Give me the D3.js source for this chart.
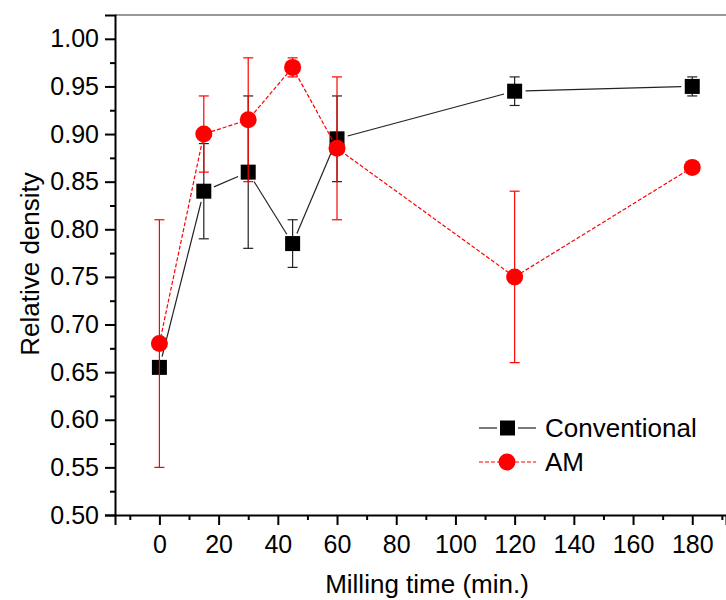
<!DOCTYPE html>
<html>
<head>
<meta charset="utf-8">
<script src="https://cdn.jsdelivr.net/npm/d3@7"></script>
<style>
  body { margin: 0; background: #fff; }
  text { font-family: "Liberation Sans", Arial, sans-serif; fill: #000; }
</style>
</head>
<body>
<svg class="chart"></svg>
<script>
var millTime = [0, 15, 30, 45, 60, 120, 180];
var convValues = [0.655, 0.84, 0.86, 0.785, 0.895, 0.945, 0.95];
var convErrors = [0, 0.05, 0.08, 0.025, 0.045, 0.015, 0.01];
var amValues = [0.68, 0.90, 0.915, 0.97, 0.885, 0.75, 0.865];
var amErrors = [0.13, 0.04, 0.065, 0.01, 0.075, 0.09, 0];
var xTicks = [0, 20, 40, 60, 80, 100, 120, 140, 160, 180];
var xMinor = [-10, 10, 30, 50, 70, 90, 110, 130, 150, 170, 190];
var yTicks = [0.50, 0.55, 0.60, 0.65, 0.70, 0.75, 0.80, 0.85, 0.90, 0.95, 1.00];
var yMinor = [0.525, 0.575, 0.625, 0.675, 0.725, 0.775, 0.825, 0.875, 0.925, 0.975];
var seriesNames = ["Conventional", "AM"];

var svgWidth = 726, svgHeight = 600;
var plotLeft = 115, plotRight = 726, plotTop = 15, plotBottom = 515;

var svg = d3.select(".chart")
    .attr("width", svgWidth)
    .attr("height", svgHeight);

var x = d3.scaleLinear().domain([-15, 191.4]).range([plotLeft, plotRight]);
var y = d3.scaleLinear().domain([0.5, 1.025]).range([plotBottom, plotTop]);

var conv = millTime.map(function(t, i) { return {t: t, v: convValues[i], e: convErrors[i]}; });
var am = millTime.map(function(t, i) { return {t: t, v: amValues[i], e: amErrors[i]}; });

// top frame line
svg.append("line")
    .attr("x1", plotLeft).attr("x2", plotRight)
    .attr("y1", plotTop).attr("y2", plotTop)
    .attr("stroke", "#999").attr("stroke-width", 2);

// x axis
var xAxis = svg.append("g")
    .attr("transform", "translate(0," + plotBottom + ")")
    .call(d3.axisBottom(x).tickValues(xTicks).tickSize(10).tickPadding(10).tickFormat(d3.format("d")));
xAxis.select(".domain").attr("stroke-width", 2);
xAxis.selectAll(".tick line").attr("stroke-width", 2);
xAxis.selectAll("text").style("font-size", "25px").attr("fill", "#000");

svg.append("g")
    .attr("transform", "translate(0," + plotBottom + ")")
    .call(d3.axisBottom(x).tickValues(xMinor).tickSize(5).tickFormat(""))
    .call(function(g) { g.select(".domain").remove(); })
    .selectAll(".tick line").attr("stroke-width", 2);

// y axis
var yAxis = svg.append("g")
    .attr("transform", "translate(" + plotLeft + ",0)")
    .call(d3.axisLeft(y).tickValues(yTicks).tickSize(10).tickPadding(6).tickFormat(d3.format(".2f")));
yAxis.select(".domain").attr("stroke-width", 2);
yAxis.selectAll(".tick line").attr("stroke-width", 2);
yAxis.selectAll("text").style("font-size", "25px").attr("fill", "#000");

svg.append("g")
    .attr("transform", "translate(" + plotLeft + ",0)")
    .call(d3.axisLeft(y).tickValues(yMinor).tickSize(5).tickFormat(""))
    .call(function(g) { g.select(".domain").remove(); })
    .selectAll(".tick line").attr("stroke-width", 2);

// axis titles
svg.append("text")
    .attr("x", 427)
    .attr("y", 593)
    .attr("text-anchor", "middle")
    .style("font-size", "26px")
    .text("Milling time (min.)");

svg.append("text")
    .attr("transform", "translate(39,264) rotate(-90)")
    .attr("text-anchor", "middle")
    .style("font-size", "26px")
    .text("Relative density");

var plot = svg.append("g");

function errorBars(data, color) {
    var g = plot.append("g").attr("stroke", color).attr("stroke-width", 1.2);
    var withErr = data.filter(function(d) { return d.e > 0; });
    g.selectAll(".ev").data(withErr).enter().append("line")
        .attr("x1", function(d) { return x(d.t); })
        .attr("x2", function(d) { return x(d.t); })
        .attr("y1", function(d) { return y(d.v - d.e); })
        .attr("y2", function(d) { return y(d.v + d.e); });
    g.selectAll(".et").data(withErr).enter().append("line")
        .attr("x1", function(d) { return x(d.t) - 5; })
        .attr("x2", function(d) { return x(d.t) + 5; })
        .attr("y1", function(d) { return y(d.v + d.e); })
        .attr("y2", function(d) { return y(d.v + d.e); });
    g.selectAll(".eb").data(withErr).enter().append("line")
        .attr("x1", function(d) { return x(d.t) - 5; })
        .attr("x2", function(d) { return x(d.t) + 5; })
        .attr("y1", function(d) { return y(d.v - d.e); })
        .attr("y2", function(d) { return y(d.v - d.e); });
}

// conventional: line segments with a small gap at each marker
var segs = d3.pairs(conv).map(function(p) {
    var x1 = x(p[0].t), y1 = y(p[0].v), x2 = x(p[1].t), y2 = y(p[1].v);
    var len = Math.sqrt((x2 - x1) * (x2 - x1) + (y2 - y1) * (y2 - y1));
    var ux = (x2 - x1) / len, uy = (y2 - y1) / len, gap = 11;
    return [x1 + ux * gap, y1 + uy * gap, x2 - ux * gap, y2 - uy * gap];
});
plot.selectAll(".seg").data(segs).enter().append("line")
    .attr("x1", function(s) { return s[0]; })
    .attr("y1", function(s) { return s[1]; })
    .attr("x2", function(s) { return s[2]; })
    .attr("y2", function(s) { return s[3]; })
    .attr("stroke", "#222")
    .attr("stroke-width", 1.2);

errorBars(conv, "#222");

plot.selectAll(".sq").data(conv).enter().append("rect")
    .attr("x", function(d) { return x(d.t) - 7.5; })
    .attr("y", function(d) { return y(d.v) - 7.5; })
    .attr("width", 15)
    .attr("height", 15)
    .attr("fill", "#000");

// AM: dashed red line
var line = d3.line()
    .x(function(d) { return x(d.t); })
    .y(function(d) { return y(d.v); });

plot.append("path")
    .datum(am)
    .attr("fill", "none")
    .attr("stroke", "#ff0000")
    .attr("stroke-width", 1.2)
    .attr("stroke-dasharray", "4,2")
    .attr("d", line);

errorBars(am, "#ff0000");

plot.selectAll(".ci").data(am).enter().append("circle")
    .attr("cx", function(d) { return x(d.t); })
    .attr("cy", function(d) { return y(d.v); })
    .attr("r", 8.5)
    .attr("fill", "#ff0000");

// legend
var legend = svg.append("g");
var legY = [428, 462];

legend.append("line")
    .attr("x1", 479).attr("x2", 497).attr("y1", legY[0]).attr("y2", legY[0])
    .attr("stroke", "#222").attr("stroke-width", 1.2);
legend.append("line")
    .attr("x1", 518).attr("x2", 536).attr("y1", legY[0]).attr("y2", legY[0])
    .attr("stroke", "#222").attr("stroke-width", 1.2);
legend.append("rect")
    .attr("x", 500).attr("y", legY[0] - 7.5).attr("width", 15).attr("height", 15)
    .attr("fill", "#000");

legend.append("line")
    .attr("x1", 479).attr("x2", 536).attr("y1", legY[1]).attr("y2", legY[1])
    .attr("stroke", "#ff0000").attr("stroke-width", 1.2).attr("stroke-dasharray", "4,2");
legend.append("circle")
    .attr("cx", 507).attr("cy", legY[1]).attr("r", 8.5)
    .attr("fill", "#ff0000");

legend.selectAll(".lt").data(seriesNames).enter().append("text")
    .attr("x", 545)
    .attr("y", function(d, i) { return legY[i] + 9; })
    .style("font-size", "26px")
    .text(function(d) { return d; });
</script>
</body>
</html>
